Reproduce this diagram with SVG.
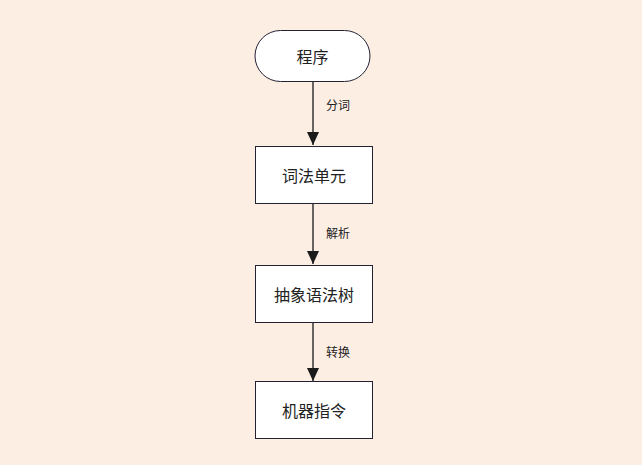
<svg xmlns="http://www.w3.org/2000/svg" width="642" height="465" viewBox="0 0 642 465">
<style>
.node{fill:#ffffff;stroke:#222233;stroke-width:1}
.t{font-family:"Liberation Sans","Noto Sans CJK SC",sans-serif;font-size:16px;fill:#222;text-anchor:middle;dominant-baseline:central}
.l{font-family:"Liberation Sans","Noto Sans CJK SC",sans-serif;font-size:12px;fill:#222;dominant-baseline:central}
.e{stroke:#1a1a1a;stroke-width:1.3;fill:none;marker-end:url(#a)}
</style>
<defs>
<marker id="a" viewBox="0 0 13 12" refX="13" refY="6" markerWidth="13" markerHeight="12" markerUnits="userSpaceOnUse" orient="auto">
<path d="M0,0 L13,6 L0,12 z" fill="#1a1a1a"/>
</marker>
</defs>
<rect width="642" height="465" fill="#fdeee4"/>
<g id="edges">
<line class="e" x1="313" y1="81" x2="313" y2="145"/>
<line class="e" x1="313" y1="203" x2="313" y2="264"/>
<line class="e" x1="313" y1="322" x2="313" y2="381"/>
<text class="l" x="326" y="106">分词</text>
<text class="l" x="326" y="234">解析</text>
<text class="l" x="326" y="353">转换</text>
</g>
<g id="n1"><rect class="node" x="255" y="30.5" width="115" height="51" rx="25.5"/><text class="t" x="312.5" y="57">程序</text></g>
<g id="n2"><rect class="node" x="255.5" y="146.5" width="117" height="57"/><text class="t" x="314" y="176">词法单元</text></g>
<g id="n3"><rect class="node" x="255.5" y="265.5" width="117" height="57"/><text class="t" x="314" y="295">抽象语法树</text></g>
<g id="n4"><rect class="node" x="255.5" y="381.5" width="117" height="57"/><text class="t" x="314" y="411">机器指令</text></g>
</svg>
